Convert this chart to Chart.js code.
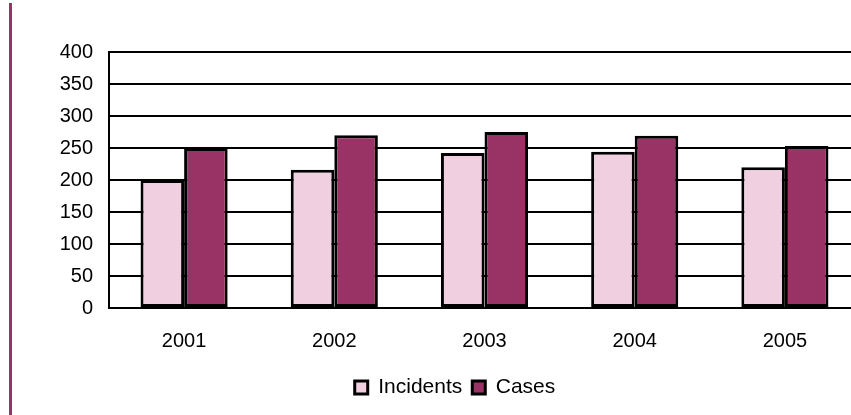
<!DOCTYPE html>
<html>
<head>
<meta charset="utf-8">
<script src="https://cdn.jsdelivr.net/npm/chart.js@4/dist/chart.umd.min.js"></script>
<style>
  html, body { margin: 0; padding: 0; background: #fff; overflow: hidden; width: 851px; height: 415px; }
  #wrap { position: absolute; left: 0; top: 0; width: 910px; height: 415px; }
  #bar { position: absolute; left: 9px; top: 3px; width: 3px; height: 412px; background: #993366; }
</style>
</head>
<body>
<div id="wrap"><canvas id="chart" width="910" height="415"></canvas></div>
<div id="bar"></div>
<script>
// values
const years = ['2001', '2002', '2003', '2004', '2005'];
const incidents = [200, 216, 242, 244, 220];
const cases = [250, 270, 275, 269, 253];
const yTicks = [0, 50, 100, 150, 200, 250, 300, 350, 400];

Chart.defaults.font.family = '"Liberation Sans", Arial, sans-serif';
Chart.defaults.font.size = 20;
Chart.defaults.color = '#000';

const ctx = document.getElementById('chart').getContext('2d');

new Chart(ctx, {
    type: 'bar',
    data: {
        labels: years,
        datasets: [
            {
                label: 'Incidents',
                data: incidents,
                backgroundColor: '#F0D0E0',
                borderColor: '#000',
                borderWidth: 3,
                borderSkipped: false
            },
            {
                label: 'Cases',
                data: cases,
                backgroundColor: '#993366',
                borderColor: '#000',
                borderWidth: 3,
                borderSkipped: false
            }
        ]
    },
    options: {
        responsive: false,
        animation: false,
        events: [],
        // left padding keeps the legend centred where the reference has it
        layout: { padding: { left: 50, right: 50, top: 52, bottom: 7 } },
        datasets: { bar: { categoryPercentage: 0.58, barPercentage: 1 } },
        scales: {
            x: {
                grid: { display: false, drawTicks: false },
                border: { color: '#000', width: 2 },
                ticks: { padding: 21, maxRotation: 0 },
                afterFit: s => { s.height = 59; }
            },
            y: {
                min: 0,
                max: 400,
                afterBuildTicks: s => { s.ticks = yTicks.map(v => ({ value: v })); },
                grid: { color: '#000', lineWidth: 2, drawTicks: false },
                border: { color: '#000', width: 2 },
                ticks: { padding: 16 },
                afterFit: s => { s.width = 59; }
            }
        },
        plugins: {
            legend: {
                position: 'bottom',
                labels: { boxWidth: 13, boxHeight: 13, padding: 10, color: '#000', font: { size: 21 } }
            },
            tooltip: { enabled: false }
        }
    }
});
</script>
</body>
</html>
